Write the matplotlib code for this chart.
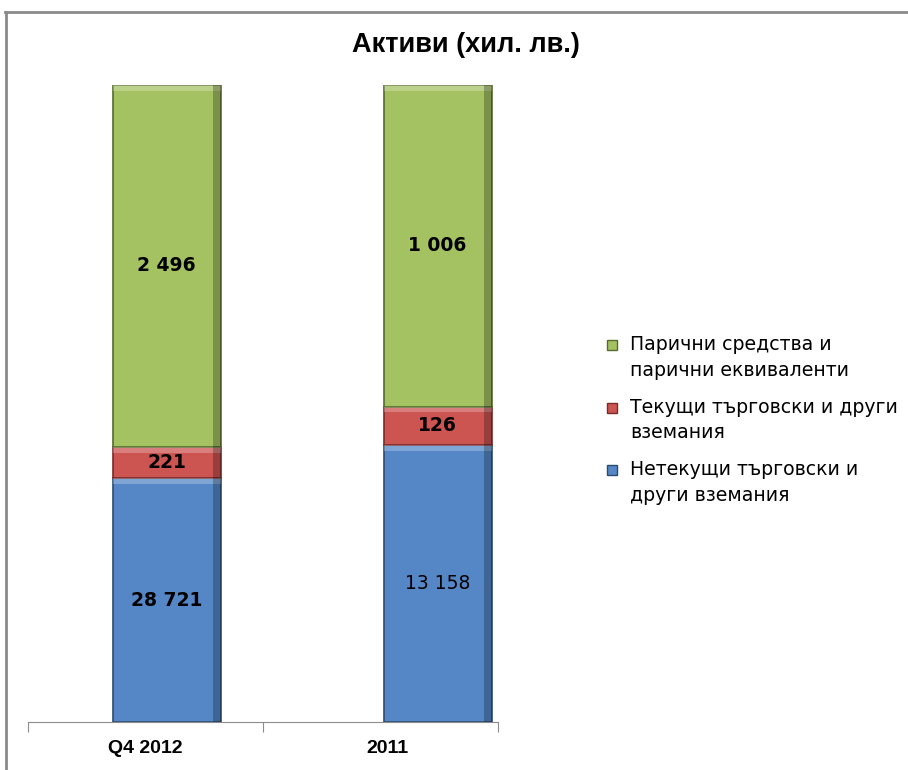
import matplotlib
matplotlib.use("Agg")
import matplotlib.pyplot as plt
from matplotlib.lines import Line2D
from matplotlib.patches import Rectangle
import numpy as np

categories = ["Q4 2012", "2011"]
series_names = ["Нетекущи търговски и\nдруги вземания",
                "Текущи търговски и други\nвземания",
                "Парични средства и\nпарични еквиваленти"]
# visual heights (share of bar, %) as drawn in the reference
blue_h = [38.3, 43.5]
red_h = [4.9, 6.0]
green_h = [56.8, 50.5]
# displayed value labels
blue_lbl = ["28 721", "13 158"]
red_lbl = ["221", "126"]
green_lbl = ["2 496", "1 006"]

colors = ["#5587c6", "#cc5552", "#a5c263"]
edge_dark = ["#2c4a70", "#7a2a28", "#566b2c"]

W, H = 908, 770
fig = plt.figure(figsize=(W / 100, H / 100), dpi=100)
ax = fig.add_axes([28 / W, 1 - 722 / H, (498 - 28) / W, (722 - 85) / H])

cat_pos = np.arange(len(categories)) + 0.5
bar_pos = cat_pos + np.array([0.09, 0.243])
width = 0.46

bottoms = np.zeros(len(categories))
all_h = [blue_h, red_h, green_h]
all_l = [blue_lbl, red_lbl, green_lbl]
weights = [[True, False], [True, True], [True, True]]
for i, (hs, ls) in enumerate(zip(all_h, all_l)):
    bars = ax.bar(bar_pos, hs, width, bottom=bottoms, color=colors[i],
                  edgecolor=edge_dark[i], linewidth=1.2, label=series_names[i], zorder=2)
    for j, b in enumerate(bars):
        x0 = b.get_x(); w = b.get_width(); y0 = b.get_y(); h = b.get_height()
        # simple bevel highlight on top and shade on right
        ax.add_patch(Rectangle((x0, y0 + h - 0.9), w, 0.9, color="white", alpha=0.25, lw=0, zorder=3))
        ax.add_patch(Rectangle((x0 + w * 0.93, y0), w * 0.07, h, color="black", alpha=0.25, lw=0, zorder=3))
        ax.text(x0 + w / 2, y0 + h / 2, ls[j], ha="center", va="center",
                fontsize=13.5, fontweight="bold" if weights[i][j] else "normal",
                family=["DejaVu Sans"], color="black", zorder=4)
    bottoms = bottoms + np.array(hs)

ax.set_xlim(0, 2)
ax.set_ylim(0, 100)
ax.set_yticks([])
for s in ["top", "right", "left"]:
    ax.spines[s].set_visible(False)
ax.spines["bottom"].set_color("#8c8c8c")
ax.set_xticks([0, 1, 2])
ax.set_xticklabels([])
ax.tick_params(axis="x", length=7, color="#8c8c8c", direction="out")
label_pos = [0.5, 1.53]
for p, c in zip(label_pos, categories):
    ax.text(p, -4.1, c, ha="center", va="center", fontsize=14, fontweight="bold",
            family=["Liberation Sans Narrow", "Liberation Sans", "DejaVu Sans"],
            transform=ax.transData, clip_on=False)

fig.text(466 / W, 1 - 45 / H, "Активи (хил. лв.)", ha="center", va="center",
         fontsize=19.5, fontweight="bold",
         family=["Liberation Sans Narrow", "Liberation Sans", "DejaVu Sans"])

handles, labels = ax.get_legend_handles_labels()
leg = fig.legend(handles[::-1], labels[::-1], loc="upper left",
                 bbox_to_anchor=(593 / W, 1 - 318 / H), frameon=False,
                 prop={"family": "DejaVu Sans", "size": 13.6},
                 handlelength=0.6, handleheight=0.6, handletextpad=0.45,
                 labelspacing=0.95)
for t in leg.get_texts():
    t.set_linespacing(1.45)

# place legend keys next to the first line of each label (as in the reference)
fig.canvas.draw()
for h, t in zip(leg.legend_handles, leg.get_texts()):
    h.set_visible(False)
    bb = t.get_window_extent()
    top = bb.y1
    yc = top - 10
    size = 10
    fig.add_artist(Rectangle(((bb.x0 - 23) / W, (yc - size / 2) / H), size / W, size / H,
                             transform=fig.transFigure, facecolor=h.get_facecolor(),
                             edgecolor=h.get_edgecolor(), lw=1))

# chart frame
fig.add_artist(Line2D([5 / W, 1.0], [1 - 12 / H, 1 - 12 / H], transform=fig.transFigure,
                      color="#8a8a8a", lw=2))
fig.add_artist(Line2D([6 / W, 6 / W], [1 - 12 / H, 0], transform=fig.transFigure,
                      color="#8a8a8a", lw=2))

fig.savefig("out.png", dpi=100)
